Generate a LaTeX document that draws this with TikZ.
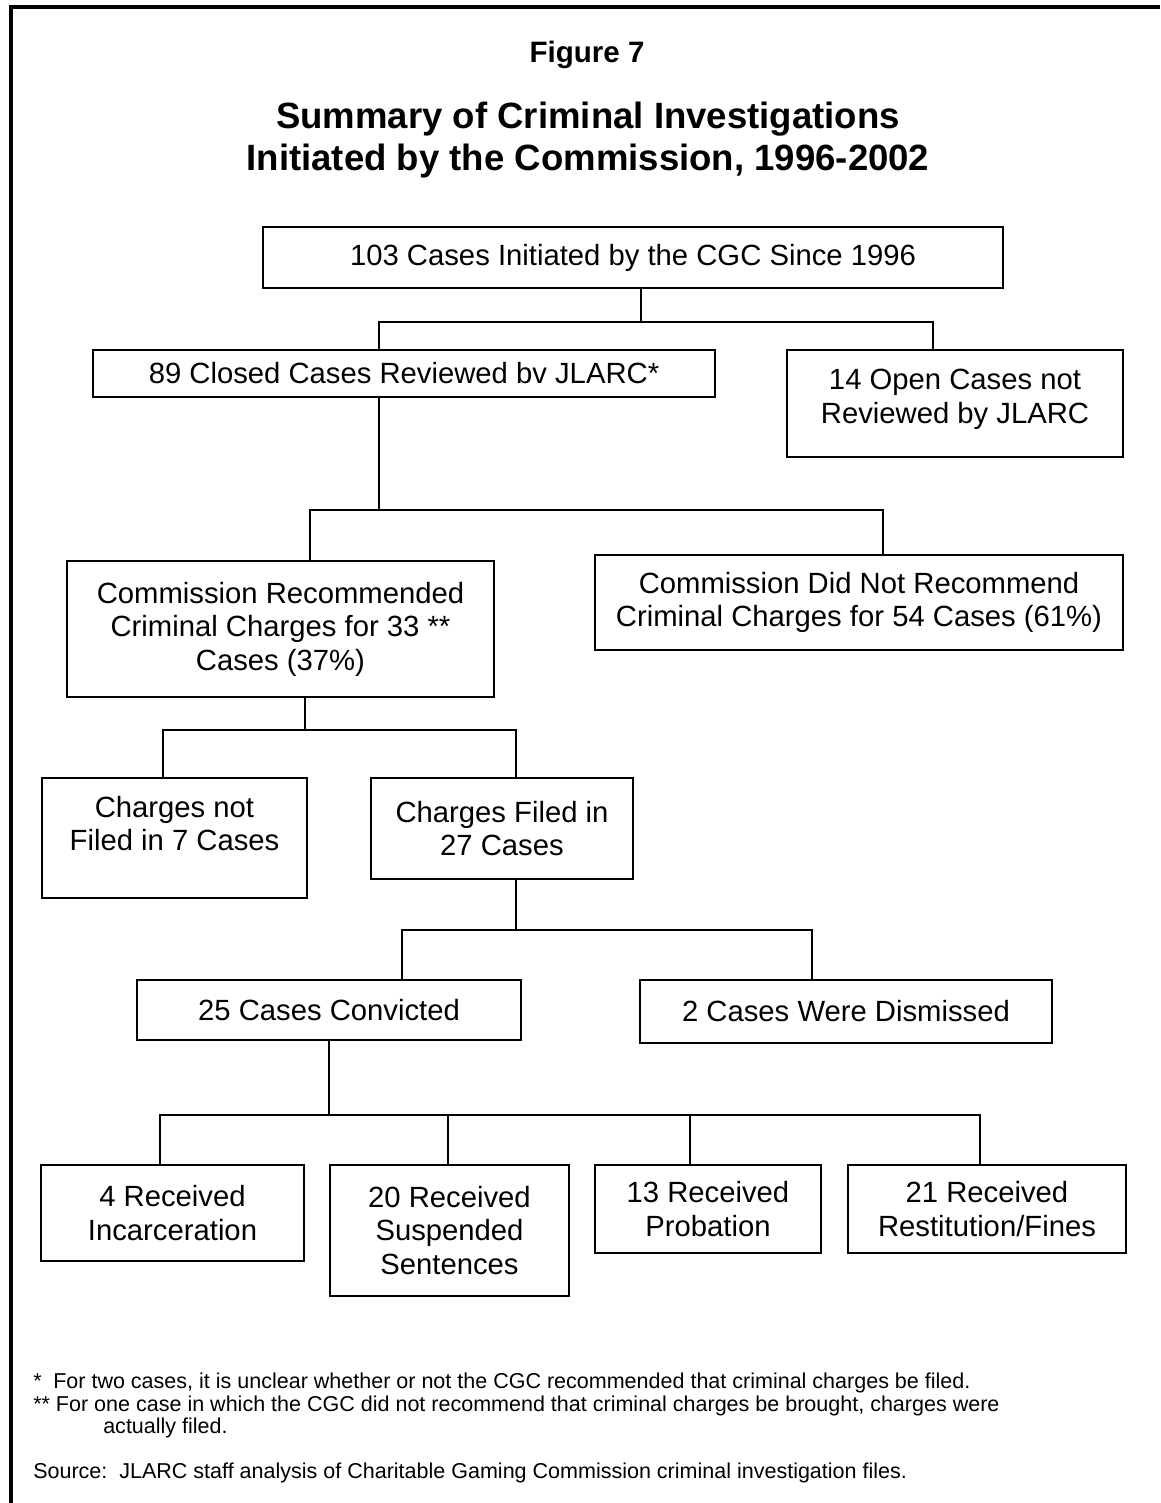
\documentclass[tikz,border=0pt]{standalone}
\usepackage{fontspec}
\setmainfont{Liberation Sans}
\newlength\px
\setlength\px{0.025cm}

\begin{document}
\begin{tikzpicture}[x=0.025cm, y=-0.025cm,
    box/.style={draw,line width=1.2pt,align=center,inner sep=0pt,
        font=\fontsize{20.8}{23.8}\selectfont},
    bus/.style={draw,line width=1.2pt},
    note/.style={anchor=base west,inner sep=0pt,font=\fontsize{15.3}{18}\selectfont}
]
    \useasboundingbox (0,0) rectangle (1160,1503);
    \draw[line width=2.2pt] (1160,7) -- (11,7) -- (11,1503);

    \node[font=\fontsize{21}{25}\selectfont\bfseries] (fig) at (587,55) {Figure 7};
    \node[align=center,font=\fontsize{26}{30}\selectfont\bfseries] (title) at (588,140)
        {Summary of Criminal Investigations\\Initiated by the Commission, 1996-2002};

    \node[box,minimum width=740\px,minimum height=61\px] (cgc) at (633,257.5)
        {103 Cases Initiated by the CGC Since 1996};
    \node[box,minimum width=622\px,minimum height=47\px] (closed) at (404,373.5)
        {89 Closed Cases Reviewed bv JLARC*};
    \node[box,minimum width=336\px,minimum height=107\px,text depth=10pt] (open) at (955,403.5)
        {14 Open Cases not\\Reviewed by JLARC};
    \node[box,minimum width=427\px,minimum height=136\px] (rec) at (280.5,629)
        {Commission Recommended\\Criminal Charges for 33 **\\Cases (37\%)};
    \node[box,minimum width=528\px,minimum height=95\px] (norec) at (859,602.5)
        {Commission Did Not Recommend\\Criminal Charges for 54 Cases (61\%)};
    \node[box,minimum width=265\px,minimum height=120\px,text depth=21pt] (notfiled) at (174.5,838)
        {Charges not\\Filed in 7 Cases};
    \node[box,minimum width=262\px,minimum height=101\px] (filed) at (502,828.5)
        {Charges Filed in\\27 Cases};
    \node[box,minimum width=384\px,minimum height=60\px] (conv) at (329,1010)
        {25 Cases Convicted};
    \node[box,minimum width=412\px,minimum height=63\px] (dism) at (846,1011.5)
        {2 Cases Were Dismissed};
    \node[box,minimum width=263\px,minimum height=96\px] (incar) at (172.5,1213)
        {4 Received\\Incarceration};
    \node[box,minimum width=239\px,minimum height=131\px] (susp) at (449.5,1230.5)
        {20 Received\\Suspended\\Sentences};
    \node[box,minimum width=226\px,minimum height=88\px] (prob) at (708,1209)
        {13 Received\\Probation};
    \node[box,minimum width=278\px,minimum height=88\px] (fines) at (987,1209)
        {21 Received\\Restitution/Fines};

    \coordinate (j1) at (641,322);
    \coordinate (j2) at (379,510);
    \coordinate (j3) at (305,730);
    \coordinate (j4) at (516,930);
    \coordinate (j5) at (329,1115);

    \draw[bus] ([xshift=8\px]cgc.south) -- (j1);
    \draw[bus] ([xshift=-25\px]closed.north) |- (j1) -| ([xshift=-22\px]open.north);
    \draw[bus] ([xshift=-25\px]closed.south) -- (j2);
    \draw[bus] ([xshift=29.5\px]rec.north) |- (j2) -| ([xshift=24\px]norec.north);
    \draw[bus] ([xshift=24.5\px]rec.south) -- (j3);
    \draw[bus] ([xshift=-11.5\px]notfiled.north) |- (j3) -| ([xshift=14\px]filed.north);
    \draw[bus] ([xshift=14\px]filed.south) -- (j4);
    \draw[bus] ([xshift=73\px]conv.north) |- (j4) -| ([xshift=-34\px]dism.north);
    \draw[bus] (conv.south) -- (j5);
    \draw[bus] ([xshift=-12.5\px]incar.north) |- (j5) -| ([xshift=-7\px]fines.north);
    \draw[bus] ([xshift=-1.5\px]susp.north) |- (j5);
    \draw[bus] ([xshift=-18\px]prob.north) |- (j5);

    \node[note] (fn1) at (33,1388)
        {\makebox[20\px][l]{*}For two cases, it is unclear whether or not the CGC recommended that criminal charges be filed.};
    \node[note] (fn2) at (33,1411)
        {** For one case in which the CGC did not recommend that criminal charges be brought, charges were};
    \node[note] (fn3) at (103,1433) {actually filed.};
    \node[note] (src) at (33,1478)
        {Source:\ \ JLARC staff analysis of Charitable Gaming Commission criminal investigation files.};
\end{tikzpicture}
\end{document}
